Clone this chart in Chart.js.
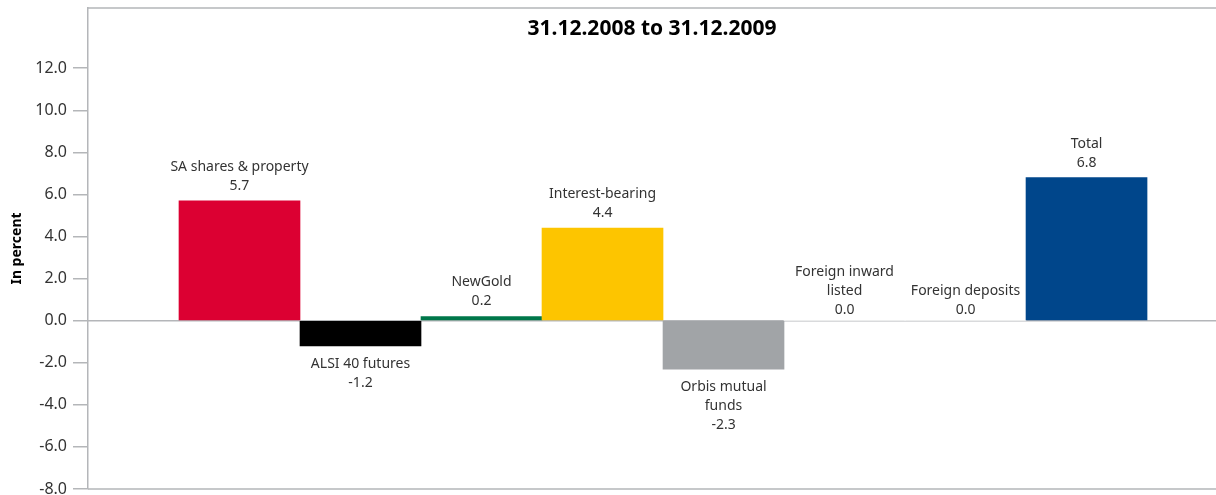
<!DOCTYPE html>
<html>
<head>
<meta charset="utf-8">
<script src="https://cdn.jsdelivr.net/npm/chart.js@4"></script>
<style>
    html, body { margin: 0; padding: 0; background: #fff; }
    #wrap { width: 1216px; height: 495px; position: relative; }
</style>
</head>
<body>
<div id="wrap"><canvas id="flowChart"></canvas></div>
<script>
    // Chart data
    const chartTitle = '31.12.2008 to 31.12.2009';
    const categories = [
        ['SA shares & property'],
        ['ALSI 40 futures'],
        ['NewGold'],
        ['Interest-bearing'],
        ['Orbis mutual', 'funds'],
        ['Foreign inward', 'listed'],
        ['Foreign deposits'],
        ['Total']
    ];
    const values = [5.7, -1.2, 0.2, 4.4, -2.3, 0.0, 0.0, 6.8];
    const barColors = ['#dc0032', '#000000', '#00774a', '#fdc500', '#a1a4a7', '#ffffff', '#ffffff', '#00468b'];
    const yTicks = [-8, -6, -4, -2, 0, 2, 4, 6, 8, 10, 12];

    const FONT = '"Noto Sans", sans-serif';
    const TEXT = '#333333';
    const LINE = '#b4b6b9';

    // Frame, zero line, title and bar labels
    const decorPlugin = {
        id: 'decor',
        beforeDatasetsDraw(chart) {
            const { ctx, chartArea: a, scales } = chart;
            const y0 = scales.y.getPixelForValue(0);
            ctx.save();
            ctx.strokeStyle = LINE;
            ctx.lineWidth = 1.5;
            ctx.beginPath();
            ctx.moveTo(a.left, a.top); ctx.lineTo(a.right, a.top);
            ctx.moveTo(a.left, a.bottom); ctx.lineTo(a.right, a.bottom);
            ctx.moveTo(a.left, y0); ctx.lineTo(a.right, y0);
            ctx.stroke();
            ctx.restore();
        },
        afterDatasetsDraw(chart) {
            const { ctx, chartArea: a } = chart;
            const meta = chart.getDatasetMeta(0);
            ctx.save();
            ctx.fillStyle = '#000';
            ctx.font = 'bold 21px ' + FONT;
            ctx.textAlign = 'center';
            ctx.textBaseline = 'middle';
            ctx.fillText(chartTitle, (a.left + a.right) / 2, 29);

            ctx.font = '14px ' + FONT;
            ctx.fillStyle = TEXT;
            meta.data.forEach((bar, i) => {
                const v = values[i];
                const lines = categories[i].concat([v.toFixed(1)]);
                const lh = 19;
                if (v < 0) {
                    lines.forEach((t, k) => ctx.fillText(t, bar.x, bar.y + 18 + k * lh));
                } else {
                    const off = v === 0 ? 11 : 15;
                    const n = lines.length;
                    lines.forEach((t, k) => ctx.fillText(t, bar.x, bar.y - off - (n - 1 - k) * lh));
                }
            });
            ctx.restore();
        }
    };

    const ctx = document.getElementById('flowChart').getContext('2d');
    new Chart(ctx, {
        type: 'bar',
        data: {
            datasets: [{
                data: values.map((v, i) => ({ x: i + 1, y: v })),
                backgroundColor: barColors,
                borderWidth: 0,
                barPercentage: 1,
                categoryPercentage: 1
            }]
        },
        options: {
            responsive: true,
            maintainAspectRatio: false,
            animation: false,
            layout: { padding: { top: 8, right: 0, bottom: 6, left: 9 } },
            plugins: {
                legend: { display: false },
                tooltip: { enabled: false }
            },
            scales: {
                x: {
                    type: 'linear',
                    display: false,
                    offset: false,
                    min: -0.252,
                    max: 9.07
                },
                y: {
                    min: -8,
                    max: 14.86,
                    afterBuildTicks(scale) {
                        scale.ticks = yTicks.map(v => ({ value: v }));
                    },
                    afterFit(scale) {
                        scale.width = 79;
                        scale.paddingTop = 0;
                        scale.paddingBottom = 0;
                    },
                    border: { color: LINE, width: 1.5 },
                    grid: {
                        drawOnChartArea: false,
                        color: LINE,
                        tickLength: 15,
                        lineWidth: 1.5
                    },
                    ticks: {
                        color: TEXT,
                        font: { family: FONT, size: 16 },
                        padding: 6,
                        callback: v => Number(v).toFixed(1)
                    },
                    title: {
                        display: true,
                        text: 'In percent',
                        color: '#000',
                        font: { family: FONT, size: 14, weight: 'bold' },
                        padding: 0
                    }
                }
            }
        },
        plugins: [decorPlugin]
    });
</script>
</body>
</html>
